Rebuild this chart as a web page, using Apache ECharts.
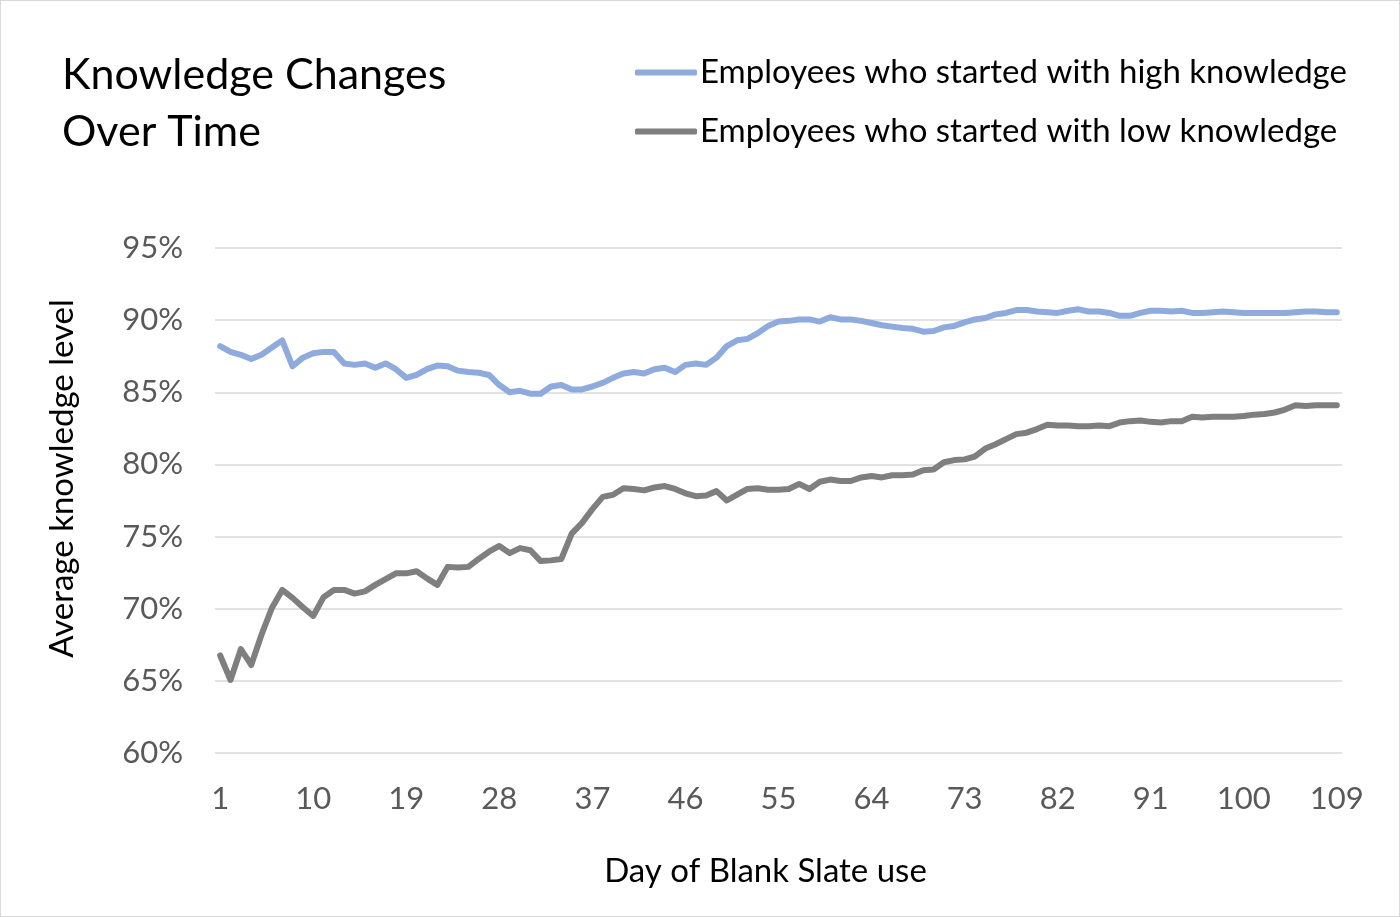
<!DOCTYPE html>
<html>
<head>
<meta charset="utf-8">
<script src="https://cdn.jsdelivr.net/npm/echarts@6/dist/echarts.min.js"></script>
<style>
  html, body { margin: 0; padding: 0; background: #fff; }
  #chart { width: 1400px; height: 917px; box-sizing: border-box; border: 1px solid #d9d9d9; }
</style>
</head>
<body>
<div id="chart"></div>
<script>
// Dias de uso (eixo X)
const days = [
  1,2,3,4,5,6,7,8,9,10,11,12,13,14,15,16,17,18,19,20,
  21,22,23,24,25,26,27,28,29,30,31,32,33,34,35,36,37,38,39,40,
  41,42,43,44,45,46,47,48,49,50,51,52,53,54,55,56,57,58,59,60,
  61,62,63,64,65,66,67,68,69,70,71,72,73,74,75,76,77,78,79,80,
  81,82,83,84,85,86,87,88,89,90,91,92,93,94,95,96,97,98,99,100,
  101,102,103,104,105,106,107,108,109
];

// Nível médio de conhecimento (%) - quem começou alto
const highKnowledge = [
  88.2, 87.8, 87.6, 87.3, 87.6, 88.1, 88.6, 86.8, 87.4, 87.7,
  87.8, 87.8, 87.0, 86.9, 87.0, 86.7, 87.0, 86.6, 86.0, 86.2,
  86.6, 86.85, 86.8, 86.5, 86.4, 86.35, 86.2, 85.5, 85.0, 85.1,
  84.9, 84.9, 85.4, 85.5, 85.2, 85.2, 85.4, 85.65, 86.0, 86.3,
  86.4, 86.3, 86.6, 86.7, 86.4, 86.9, 87.0, 86.9, 87.4, 88.2,
  88.6, 88.7, 89.1, 89.6, 89.9, 89.95, 90.05, 90.05, 89.9, 90.2,
  90.05, 90.05, 89.95, 89.8, 89.65, 89.55, 89.45, 89.4, 89.2, 89.25,
  89.5, 89.6, 89.85, 90.05, 90.15, 90.4, 90.5, 90.7, 90.7, 90.6,
  90.55, 90.5, 90.65, 90.75, 90.6, 90.6, 90.5, 90.3, 90.3, 90.5,
  90.65, 90.65, 90.6, 90.65, 90.5, 90.5, 90.55, 90.6, 90.55, 90.5,
  90.5, 90.5, 90.5, 90.5, 90.55, 90.6, 90.6, 90.55, 90.55
];

// Nível médio de conhecimento (%) - quem começou baixo
const lowKnowledge = [
  66.76, 65.06, 67.2, 66.1, 68.2, 70.05, 71.3, 70.75, 70.1, 69.5,
  70.8, 71.3, 71.3, 71.05, 71.2, 71.65, 72.05, 72.45, 72.45, 72.6,
  72.1, 71.65, 72.9, 72.85, 72.9, 73.45, 73.95, 74.35, 73.85, 74.2,
  74.05, 73.3, 73.35, 73.45, 75.2, 75.95, 76.9, 77.75, 77.9, 78.35,
  78.3, 78.2, 78.4, 78.5, 78.3, 78.0, 77.8, 77.85, 78.15, 77.5,
  77.9, 78.3, 78.35, 78.25, 78.25, 78.3, 78.65, 78.3, 78.8, 78.95,
  78.85, 78.85, 79.1, 79.2, 79.1, 79.25, 79.25, 79.3, 79.6, 79.65,
  80.15, 80.3, 80.35, 80.55, 81.1, 81.4, 81.75, 82.1, 82.2, 82.45,
  82.75, 82.7, 82.7, 82.65, 82.65, 82.7, 82.65, 82.9, 83.0, 83.05,
  82.95, 82.9, 83.0, 83.0, 83.3, 83.25, 83.3, 83.3, 83.3, 83.35,
  83.45, 83.5, 83.6, 83.8, 84.1, 84.05, 84.1, 84.1, 84.1
];

// Limites do eixo Y (%)
const yMin = 60;
const yMax = 95;
const yStep = 5;

const seriesNames = [
  'Employees who started with high knowledge',
  'Employees who started with low knowledge'
];

const coresSeries = ['#8faadc', '#7f7f7f'];

const fonte = 'Lato, "Noto Sans", sans-serif';

const chart = echarts.init(document.getElementById('chart'));

const option = {
  animation: false,
  title: {
    text: 'Knowledge Changes\nOver Time',
    left: 56,
    top: 41,
    textStyle: { fontFamily: fonte, fontSize: 43, fontWeight: 'normal', color: '#000', lineHeight: 57 }
  },
  legend: {
    orient: 'vertical',
    left: 629,
    top: 50,
    icon: 'roundRect',
    itemWidth: 62,
    itemHeight: 6,
    itemGap: 26,
    textStyle: { fontFamily: fonte, fontSize: 33, color: '#000', padding: [0, 0, 0, -2] },
    data: seriesNames
  },
  grid: { left: 214, right: 57, top: 247, bottom: 163 },
  xAxis: {
    type: 'category',
    data: days,
    boundaryGap: true,
    axisLine: { show: false },
    axisTick: { show: false },
    axisLabel: { interval: 8, margin: 30, fontFamily: fonte, fontSize: 31, color: '#595959' },
    name: 'Day of Blank Slate use',
    nameLocation: 'middle',
    nameGap: 102,
    nameTextStyle: { fontFamily: fonte, fontSize: 33, color: '#000', padding: [0, 26, 0, 0] }
  },
  yAxis: {
    type: 'value',
    min: yMin,
    max: yMax,
    interval: yStep,
    axisLine: { show: false },
    axisTick: { show: false },
    axisLabel: { formatter: '{value}%', margin: 32, fontFamily: fonte, fontSize: 31, color: '#595959' },
    splitLine: { lineStyle: { color: '#d9d9d9', width: 1.5 } },
    name: 'Average knowledge level',
    nameLocation: 'middle',
    nameGap: 136,
    nameTextStyle: { fontFamily: fonte, fontSize: 33, color: '#000', padding: [0, 0, 0, 44] }
  },
  series: [
    {
      name: seriesNames[0],
      type: 'line',
      data: highKnowledge,
      symbol: 'none',
      lineStyle: { color: coresSeries[0], width: 6, cap: 'round', join: 'round' },
      itemStyle: { color: coresSeries[0] }
    },
    {
      name: seriesNames[1],
      type: 'line',
      data: lowKnowledge,
      symbol: 'none',
      lineStyle: { color: coresSeries[1], width: 6, cap: 'round', join: 'round' },
      itemStyle: { color: coresSeries[1] }
    }
  ]
};

chart.setOption(option);
</script>
</body>
</html>
